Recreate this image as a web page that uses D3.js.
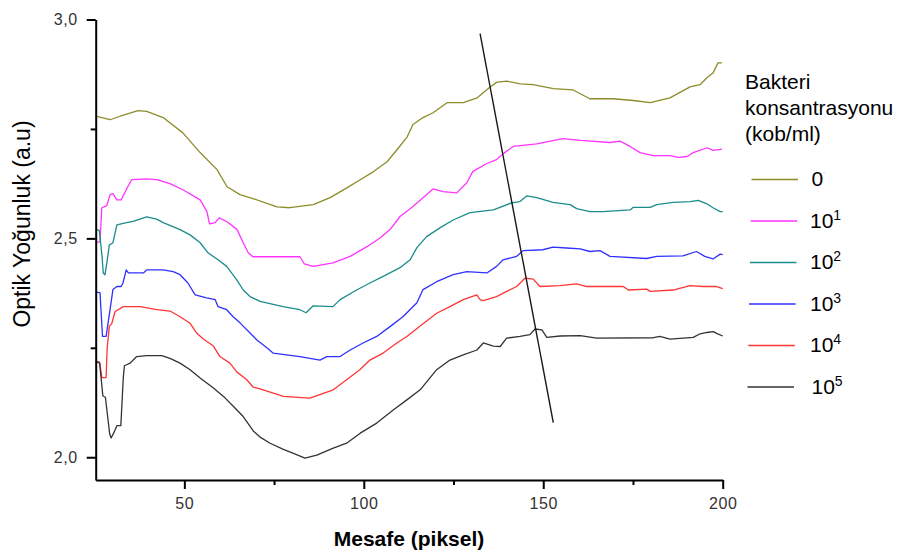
<!DOCTYPE html>
<html>
<head>
<meta charset="utf-8">
<script src="https://cdn.jsdelivr.net/npm/d3@7"></script>
<style>
  html, body { margin: 0; padding: 0; background: #fff; }
  svg { display: block; }
</style>
</head>
<body>
<svg id="chart" width="904" height="554"></svg>
<script>
// ---------- DATA (x = Mesafe (piksel), y = Optik Yoğunluk (a.u)) ----------
const seriesLabels = ["0", "1", "2", "3", "4", "5"]; // exponents shown as 10^n (first is plain "0")
const seriesColors = ["#8c8c2a", "#ff33ff", "#1a8c8c", "#3030ff", "#ff3535", "#333333"];

const s0 = [[25.3,2.779],[29.3,2.771],[32.1,2.779],[37.1,2.792],[39.5,2.790],[44.1,2.776],[49.6,2.741],[54.4,2.696],[59.1,2.657],[61.9,2.618],[65.5,2.600],[69.1,2.591],[75.8,2.572],[79.4,2.570],[85.9,2.577],[90.6,2.593],[95.4,2.616],[99.0,2.634],[102.6,2.652],[106.5,2.675],[109.3,2.703],[112.1,2.732],[113.7,2.760],[116.5,2.776],[119.3,2.787],[123.2,2.810],[127.7,2.810],[131.6,2.821],[135.2,2.846],[137.1,2.857],[139.9,2.859],[143.6,2.853],[147.2,2.851],[152.8,2.842],[158.3,2.839],[163.0,2.819],[169.5,2.819],[175.1,2.815],[179.8,2.810],[185.3,2.821],[190.9,2.846],[193.7,2.851],[195.6,2.867],[197.3,2.878],[198.7,2.901],[199.8,2.901]];

const s1 = [[25.3,2.491],[26.5,2.492],[27.0,2.570],[28.4,2.575],[29.3,2.600],[30.1,2.602],[31.2,2.588],[32.4,2.588],[33.8,2.611],[35.3,2.634],[39.5,2.636],[42.3,2.634],[46.0,2.625],[49.6,2.611],[54.4,2.588],[56.3,2.561],[57.0,2.533],[58.6,2.536],[59.7,2.547],[61.9,2.538],[64.7,2.520],[66.4,2.490],[67.8,2.467],[69.1,2.458],[82.2,2.458],[83.4,2.442],[85.9,2.436],[91.4,2.444],[96.2,2.459],[100.9,2.481],[104.5,2.501],[107.3,2.520],[110.1,2.550],[113.7,2.573],[116.5,2.593],[119.3,2.613],[122.1,2.607],[125.9,2.604],[128.7,2.627],[130.4,2.653],[134.3,2.671],[137.0,2.680],[138.8,2.693],[141.6,2.710],[148.2,2.716],[155.5,2.728],[160.3,2.724],[168.6,2.719],[171.4,2.722],[174.2,2.710],[177.0,2.696],[180.6,2.689],[185.3,2.689],[187.6,2.685],[190.1,2.687],[191.8,2.696],[195.7,2.707],[197.3,2.701],[199.8,2.704]];

const s2 = [[25.3,2.520],[26.3,2.518],[27.1,2.456],[27.4,2.421],[27.9,2.417],[28.4,2.444],[29.1,2.485],[30.1,2.490],[31.2,2.531],[33.9,2.536],[35.7,2.539],[39.5,2.549],[42.3,2.544],[44.1,2.536],[48.8,2.520],[51.6,2.508],[54.4,2.490],[56.6,2.467],[59.4,2.451],[61.8,2.436],[64.6,2.405],[66.4,2.382],[68.3,2.367],[71.1,2.356],[77.5,2.344],[82.2,2.337],[83.9,2.330],[85.9,2.346],[91.4,2.344],[93.4,2.360],[98.0,2.382],[101.7,2.398],[105.4,2.413],[110.1,2.433],[112.9,2.451],[114.8,2.479],[117.5,2.504],[121.2,2.524],[124.9,2.542],[129.6,2.559],[136.1,2.565],[141.2,2.581],[143.5,2.584],[145.4,2.597],[148.2,2.593],[152.7,2.582],[157.5,2.577],[159.3,2.568],[163.0,2.561],[166.7,2.561],[174.2,2.565],[175.1,2.571],[179.8,2.571],[181.6,2.577],[186.2,2.582],[190.9,2.584],[193.2,2.587],[195.6,2.579],[197.3,2.570],[199.3,2.561],[200,2.561]];

const s3 = [[25.3,2.377],[26.5,2.376],[27.2,2.276],[28.2,2.276],[29.3,2.337],[30.1,2.383],[31.2,2.390],[32.4,2.390],[32.9,2.398],[33.8,2.428],[34.4,2.421],[38.6,2.421],[39.5,2.428],[44.1,2.428],[46.9,2.424],[48.8,2.417],[51.0,2.398],[53.0,2.371],[56.2,2.364],[58.6,2.360],[59.4,2.344],[61.8,2.337],[63.6,2.321],[65.5,2.307],[68.3,2.284],[70.2,2.268],[73.0,2.250],[74.7,2.238],[82.2,2.230],[87.8,2.222],[89.7,2.230],[93.4,2.230],[96.2,2.245],[99.8,2.261],[103.6,2.276],[107.4,2.299],[110.9,2.321],[114.8,2.353],[116.5,2.383],[120.3,2.401],[124.9,2.417],[128.7,2.424],[134.3,2.421],[137.0,2.436],[138.8,2.451],[142.6,2.459],[144.4,2.472],[149.9,2.474],[152.7,2.480],[156.5,2.478],[160.3,2.476],[163.0,2.470],[165.8,2.472],[168.6,2.459],[178.8,2.454],[181.6,2.459],[188.9,2.460],[192.7,2.470],[195.0,2.459],[197.3,2.453],[199.3,2.464],[200,2.463]];

const s4 = [[25.3,2.219],[26.4,2.217],[27.0,2.182],[28.2,2.182],[28.5,2.250],[29.1,2.299],[29.8,2.306],[30.7,2.333],[33.0,2.344],[37.7,2.344],[42.3,2.337],[46.0,2.334],[48.8,2.321],[51.6,2.306],[53.5,2.283],[55.3,2.270],[58.1,2.254],[59.9,2.230],[62.7,2.215],[64.6,2.195],[67.4,2.177],[69.2,2.160],[71.1,2.156],[77.6,2.139],[85.0,2.135],[88.7,2.146],[91.5,2.154],[95.2,2.177],[98.9,2.200],[101.7,2.222],[105.4,2.238],[109.2,2.261],[112.0,2.276],[115.7,2.300],[120.3,2.329],[124.0,2.344],[127.7,2.360],[131.5,2.371],[132.4,2.360],[133.3,2.358],[137.0,2.367],[139.8,2.379],[142.6,2.390],[144.9,2.409],[147.2,2.407],[149.1,2.390],[154.6,2.392],[159.3,2.396],[162.1,2.390],[172.3,2.390],[173.7,2.382],[178.8,2.384],[179.8,2.379],[186.2,2.382],[190.9,2.392],[194.6,2.390],[198.3,2.390],[200,2.385]];

const s5 = [[25.3,2.219],[26.4,2.215],[27.3,2.140],[28.0,2.137],[29.2,2.053],[29.6,2.044],[30.3,2.055],[31.2,2.072],[32.3,2.072],[33.0,2.184],[33.3,2.209],[34.9,2.215],[36.7,2.230],[39.5,2.232],[43.7,2.232],[46.0,2.226],[48.8,2.215],[51.6,2.200],[54.4,2.181],[58.1,2.158],[60.9,2.139],[63.7,2.116],[66.4,2.093],[69.2,2.060],[71.1,2.046],[73.9,2.032],[77.6,2.018],[80.4,2.009],[83.6,1.998],[86.9,2.005],[91.5,2.021],[95.2,2.032],[99.0,2.055],[103.6,2.078],[108.2,2.108],[112.0,2.131],[115.7,2.154],[120.3,2.200],[124.0,2.222],[127.7,2.234],[131.5,2.245],[133.3,2.261],[136.1,2.254],[138.0,2.253],[139.8,2.272],[143.5,2.276],[146.3,2.280],[147.7,2.293],[149.6,2.291],[151.0,2.274],[154.7,2.277],[160.3,2.278],[164.9,2.272],[180.7,2.273],[182.5,2.276],[185.3,2.270],[191.8,2.274],[193.7,2.282],[195.6,2.285],[197.4,2.287],[198.3,2.283],[200,2.277]];

const allSeries = [s0, s1, s2, s3, s4, s5];

// Annotation line (drawn across the peaks)
const guideLine = [[132.4, 2.968], [152.8, 2.079]];

const xMajorTicks = [50, 100, 150, 200];
const xMinorTicks = [75, 125, 175];
const yMajorTicks = [2.0, 2.5, 3.0];
const yMinorTicks = [2.25, 2.75];

const xTitle = "Mesafe (piksel)";
const yTitle = "Optik Yoğunluk (a.u)";
const legendTitle = ["Bakteri", "konsantrasyonu", "(kob/ml)"];

// ---------- CHART ----------
const svg = d3.select("#chart");
const FONT = "'Liberation Sans', Arial, Helvetica, sans-serif";

const x = d3.scaleLinear().domain([25.3, 200]).range([95.7, 722.7]);
const y = d3.scaleLinear().domain([1.948, 3.0]).range([480, 19.5]);

const line = d3.line().x(d => x(d[0])).y(d => y(d[1]));

// curves
svg.append("g").selectAll("path")
  .data(allSeries)
  .join("path")
  .attr("d", line)
  .attr("fill", "none")
  .attr("stroke", (d, i) => seriesColors[i])
  .attr("stroke-width", 1.3)
  .attr("stroke-linejoin", "round");

// guide line
svg.append("path")
  .attr("d", line(guideLine))
  .attr("fill", "none")
  .attr("stroke", "#1a1a1a")
  .attr("stroke-width", 1.4);

// axes
const fmt = d => d3.format(".1f")(d).replace(".", ",");

const xAxis = svg.append("g")
  .attr("transform", `translate(0,${y(1.948)})`)
  .call(d3.axisBottom(x).tickValues(xMajorTicks).tickSize(9).tickSizeOuter(0).tickPadding(9).tickFormat(d3.format("d")));
svg.append("g")
  .attr("transform", `translate(0,${y(1.948)})`)
  .call(d3.axisBottom(x).tickValues(xMinorTicks).tickSize(5).tickSizeOuter(0).tickFormat(""))
  .select(".domain").remove();

const yAxis = svg.append("g")
  .attr("transform", `translate(${x(25.3)},0)`)
  .call(d3.axisLeft(y).tickValues(yMajorTicks).tickSize(9).tickSizeOuter(0).tickPadding(9).tickFormat(fmt));
svg.append("g")
  .attr("transform", `translate(${x(25.3)},0)`)
  .call(d3.axisLeft(y).tickValues(yMinorTicks).tickSize(5).tickSizeOuter(0).tickFormat(""))
  .select(".domain").remove();

svg.selectAll(".domain").attr("stroke", "#000").attr("stroke-width", 2);
svg.selectAll(".tick line").attr("stroke", "#000").attr("stroke-width", 2);
svg.selectAll(".tick text")
  .attr("font-family", FONT)
  .attr("font-size", 16)
  .attr("letter-spacing", 0.6)
  .attr("fill", "#333");

// axis titles
svg.append("text")
  .attr("x", 409).attr("y", 546)
  .attr("text-anchor", "middle")
  .attr("font-family", FONT)
  .attr("font-size", 21)
  .attr("font-weight", "bold")
  .attr("fill", "#000")
  .text(xTitle);

svg.append("text")
  .attr("transform", "translate(30,224) rotate(-90)")
  .attr("text-anchor", "middle")
  .attr("font-family", FONT)
  .attr("font-size", 23)
  .attr("fill", "#000")
  .text(yTitle);

// legend
const lg = svg.append("g").attr("font-family", FONT).attr("fill", "#000");
lg.selectAll("text.title")
  .data(legendTitle)
  .join("text")
  .attr("class", "title")
  .attr("x", 745)
  .attr("y", (d, i) => 89 + i * 26)
  .attr("font-size", 21)
  .text(d => d);

const legRows = seriesLabels.map((s, i) => ({ s, i }));
const rowY = i => 179.5 + i * 41.5;

lg.selectAll("line.key")
  .data(legRows)
  .join("line")
  .attr("class", "key")
  .attr("x1", d => 751.5 - d.i * 0.8)
  .attr("x2", d => 798 - d.i * 0.8)
  .attr("y1", d => rowY(d.i))
  .attr("y2", d => rowY(d.i))
  .attr("stroke", d => seriesColors[d.i])
  .attr("stroke-width", 1.6);

legRows.forEach(d => {
  const t = lg.append("text")
    .attr("x", d.i === 0 || d.i === 5 ? 811.5 : 810)
    .attr("y", rowY(d.i) + 6.5)
    .attr("font-size", 21);
  if (d.i === 0) {
    t.append("tspan").text("0");
    t.append("tspan").attr("dy", -9).attr("font-size", 8).attr("fill", "#bbb").text("'");
  } else {
    t.append("tspan").text("10");
    t.append("tspan").attr("dy", -8).attr("font-size", 14).text(d.s);
  }
});
</script>
</body>
</html>
